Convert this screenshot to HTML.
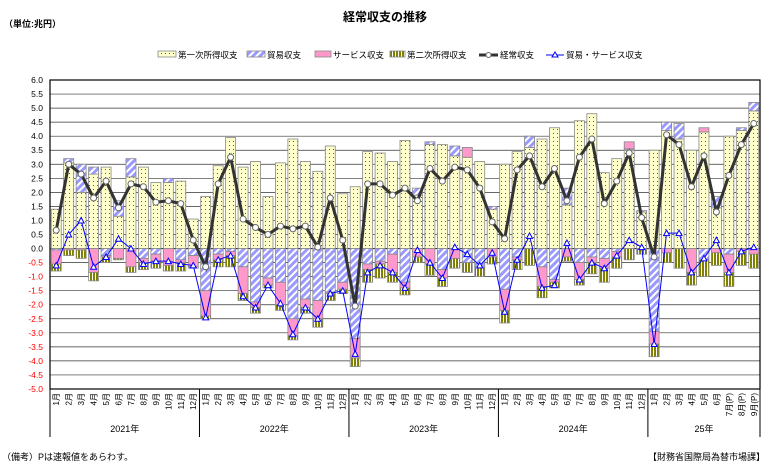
<!DOCTYPE html>
<html><head><meta charset="utf-8">
<style>
html,body{margin:0;padding:0;background:#fff;}
body{width:770px;height:470px;overflow:hidden;font-family:"Liberation Sans","Noto Sans CJK JP",sans-serif;}
svg text{font-family:"Liberation Sans","Noto Sans CJK JP",sans-serif;}
</style></head><body>
<svg id="c" width="770" height="470" xmlns="http://www.w3.org/2000/svg">
<defs>
<pattern id="pY" width="4" height="4" patternUnits="userSpaceOnUse">
<rect width="4" height="4" fill="#ffffcc"/><rect x="1" y="1" width="1" height="1" fill="#a04030"/></pattern>
<pattern id="pT" width="5" height="5" patternUnits="userSpaceOnUse" patternTransform="rotate(45)">
<rect width="5" height="5" fill="#9999ff"/><rect width="2" height="5" fill="#ffffff"/></pattern>
<pattern id="pD" width="3" height="4" patternUnits="userSpaceOnUse">
<rect width="3" height="4" fill="#ffffff"/><rect width="2" height="4" fill="#808000"/></pattern>
</defs>
<text x="385" y="21" text-anchor="middle" font-size="12" font-weight="bold">経常収支の推移</text>
<text x="4" y="27" font-size="9" font-weight="bold">（単位:兆円）</text>
<g id="leg" font-size="8.5"></g>
<g id="grid"></g>
<g id="bars"></g>
<g id="lines"></g>
<g id="axis"></g>
<text x="2" y="460" font-size="9">（備考）Pは速報値をあらわす。</text>
<text x="765" y="460" font-size="9" text-anchor="end">【財務省国際局為替市場課】</text>
</svg>
<script>
var D=[
[1.4,-0.05,-0.5,-0.25,0.65,-0.6],[3.05,0.15,-0.05,-0.2,3.0,0.5],[2.0,1.0,-0.05,-0.3,2.65,1.0],[2.65,0.25,-0.85,-0.3,1.8,-0.65],
[2.9,-0.25,-0.05,-0.2,2.4,-0.3],[1.15,0.55,-0.35,-0.05,1.45,0.35],[2.55,0.65,-0.65,-0.2,2.3,0.0],[2.9,-0.35,-0.15,-0.25,2.2,-0.55],
[2.35,-0.2,-0.25,-0.25,1.65,-0.45],[2.35,0.15,-0.6,-0.2,1.7,-0.45],[2.4,-0.4,-0.1,-0.3,1.6,-0.55],[1.05,-0.25,-0.4,-0.05,0.3,-0.6],
[1.85,-1.5,-0.9,-0.1,-0.65,-2.45],[2.95,-0.2,-0.2,-0.25,2.3,-0.4],[3.95,-0.1,-0.15,-0.4,3.25,-0.25],[2.9,-0.65,-0.95,-0.25,1.05,-1.7],
[3.1,-1.9,-0.2,-0.2,0.75,-2.1],[1.85,-1.05,-0.25,-0.1,0.5,-1.3],[3.05,-1.2,-0.8,-0.2,0.8,-1.95],[3.9,-2.5,-0.6,-0.15,0.7,-3.05],
[3.1,-1.8,-0.3,-0.2,0.8,-2.1],[2.75,-1.85,-0.65,-0.3,0.05,-2.5],[3.65,-1.55,-0.05,-0.25,1.8,-1.6],[1.95,-1.2,-0.25,-0.15,0.3,-1.5],
[2.2,-3.2,-0.7,-0.3,-2.05,-3.75],[3.45,-0.55,-0.2,-0.45,2.3,-0.85],[3.4,-0.45,-0.1,-0.5,2.3,-0.6],[3.1,-0.2,-0.65,-0.35,1.9,-0.85],
[3.85,-1.2,-0.2,-0.25,2.15,-1.4],[1.9,0.25,-0.3,-0.2,1.7,-0.05],[3.7,0.1,-0.55,-0.4,2.85,-0.5],[3.7,-0.75,-0.3,-0.3,2.4,-1.05],
[3.3,0.35,-0.35,-0.35,2.9,0.05],[3.25,-0.5,0.35,-0.35,2.8,-0.2],[3.1,-0.65,0,-0.35,2.15,-0.6],[1.4,0.1,-0.3,-0.25,0.95,-0.15],
[3.0,-1.45,-0.75,-0.45,0.35,-2.25],[3.45,-0.3,-0.1,-0.35,2.8,-0.4],[3.6,0.4,0,-0.6,3.3,0.45],[3.9,-0.65,-0.7,-0.4,2.2,-1.4],
[4.3,-1.1,-0.1,-0.2,2.85,-1.3],[1.55,0.6,-0.3,-0.15,1.7,0.2],[4.55,-0.5,-0.6,-0.2,3.25,-1.1],[4.8,-0.3,-0.2,-0.4,3.9,-0.5],
[2.7,-0.35,-0.35,-0.5,1.6,-0.7],[3.2,-0.1,-0.2,-0.4,2.4,-0.25],[3.5,0.05,0.25,-0.4,3.4,0.3],[1.3,0.05,0,-0.2,1.1,0.05],
[3.5,-2.95,-0.45,-0.45,-0.3,-3.4],[4.2,0.3,-0.15,-0.35,4.05,0.55],[3.9,0.55,0,-0.7,3.7,0.55],[3.5,0,-0.85,-0.45,2.2,-0.85],
[4.15,-0.4,0.15,-0.6,3.3,-0.35],[1.45,0.4,-0.15,-0.45,1.3,0.3],[4.0,-0.2,-0.65,-0.5,2.6,-0.85],[4.2,0.1,-0.1,-0.5,3.7,-0.1],
[4.9,0.3,-0.2,-0.5,4.45,0.05]];
var NS="http://www.w3.org/2000/svg";
function el(p,t,a,txt){var e=document.createElementNS(NS,t);for(var k in a)e.setAttribute(k,a[k]);if(txt!=null)e.textContent=txt;document.getElementById(p).appendChild(e);return e;}
var L=50,R=760,T=80,B=389,N=57,W=(R-L)/N;
function Y(v){return T+(6-v)*(B-T)/11;}
function X(i){return L+W*(i+0.5);}
for(var k=0;k<=22;k++){var v=6-k*0.5,y=Y(v);
 el("grid","line",{x1:L,x2:R,y1:y,y2:y,stroke:"#333",'stroke-width':(v==0?1.2:0.7)});
 el("grid","text",{x:L-7,y:y+3,'font-size':8.5,'text-anchor':'end',fill:(v<0?"#ff0000":"#000")},v.toFixed(1));}
el("grid","rect",{x:L,y:T,width:R-L,height:B-T,fill:"none",stroke:"#000",'stroke-width':1.2});
var fills=["url(#pY)","url(#pT)","#ff99cc","url(#pD)"];
for(var i=0;i<N;i++){var d=D[i],bw=10,x0=X(i)-bw/2,pos=0,neg=0;
 for(var j=0;j<4;j++){var v=d[j];if(Math.abs(v)<0.001)continue;var a,b;
  if(v>0){a=pos;b=pos+v;pos=b;}else{a=neg;b=neg+v;neg=b;}
  var y1=Y(Math.max(a,b)),y2=Y(Math.min(a,b));
  el("bars","rect",{x:x0,y:y1,width:bw,height:y2-y1,fill:fills[j],stroke:"#888",'stroke-width':0.8});}}
var p1="",p2="";for(var i=0;i<N;i++){p1+=(i?"L":"M")+X(i)+" "+Y(D[i][4]);p2+=(i?"L":"M")+X(i)+" "+Y(D[i][5]);}
el("lines","path",{d:p2,fill:"none",stroke:"#0000ff",'stroke-width':1});
for(var i=0;i<N;i++){var x=X(i),y=Y(D[i][5]);el("lines","path",{d:"M"+(x-3)+" "+(y+2.5)+"L"+x+" "+(y-3)+"L"+(x+3)+" "+(y+2.5)+"Z",fill:"#fff",stroke:"#0000ff",'stroke-width':1});}
el("lines","path",{d:p1,fill:"none",stroke:"#333",'stroke-width':3});
for(var i=0;i<N;i++)el("lines","circle",{cx:X(i),cy:Y(D[i][4]),r:3,fill:"#fff",stroke:"#666",'stroke-width':1});
var yrs=["2021年","2022年","2023年","2024年","25年"];
for(var i=0;i<N;i++){var m=i%12+1,lab=m+"月"+(i>=54?"(P)":"");
 el("axis","text",{x:0,y:0,'font-size':8,'text-anchor':'end',transform:"translate("+(X(i)+3)+","+(B+4)+") rotate(-90)"},lab);}
for(var yv=0;yv<=4;yv++){var xs=L+W*12*yv;el("axis","line",{x1:xs,x2:xs,y1:B,y2:437,stroke:"#000",'stroke-width':1});
 var xe=Math.min(L+W*12*(yv+1),R);el("axis","text",{x:(xs+xe)/2,y:432,'font-size':9,'text-anchor':'middle'},yrs[yv]);}
el("axis","line",{x1:R,x2:R,y1:B,y2:437,stroke:"#000",'stroke-width':1});
var ly=55;
el("leg","rect",{x:158,y:ly-4,width:18,height:6,fill:"url(#pY)",stroke:"#888",'stroke-width':0.8});
el("leg","text",{x:178,y:ly+3},"第一次所得収支");
el("leg","rect",{x:247,y:ly-4,width:18,height:6,fill:"url(#pT)",stroke:"#888",'stroke-width':0.8});
el("leg","text",{x:267,y:ly+3},"貿易収支");
el("leg","rect",{x:315,y:ly-4,width:16,height:6,fill:"#ff99cc",stroke:"#888",'stroke-width':0.8});
el("leg","text",{x:333,y:ly+3},"サービス収支");
el("leg","rect",{x:390,y:ly-4,width:15,height:6,fill:"url(#pD)",stroke:"#888",'stroke-width':0.8});
el("leg","text",{x:407,y:ly+3},"第二次所得収支");
el("leg","line",{x1:479,x2:498,y1:ly,y2:ly,stroke:"#333",'stroke-width':3});
el("leg","circle",{cx:488.5,cy:ly,r:2.5,fill:"#fff",stroke:"#666"});
el("leg","text",{x:500,y:ly+3},"経常収支");
el("leg","line",{x1:546,x2:564,y1:ly,y2:ly,stroke:"#0000ff",'stroke-width':1});
el("leg","path",{d:"M552 "+(ly+2)+"L555 "+(ly-3)+"L558 "+(ly+2)+"Z",fill:"#fff",stroke:"#0000ff"});
el("leg","text",{x:566,y:ly+3},"貿易・サービス収支");
</script>
</body></html>
